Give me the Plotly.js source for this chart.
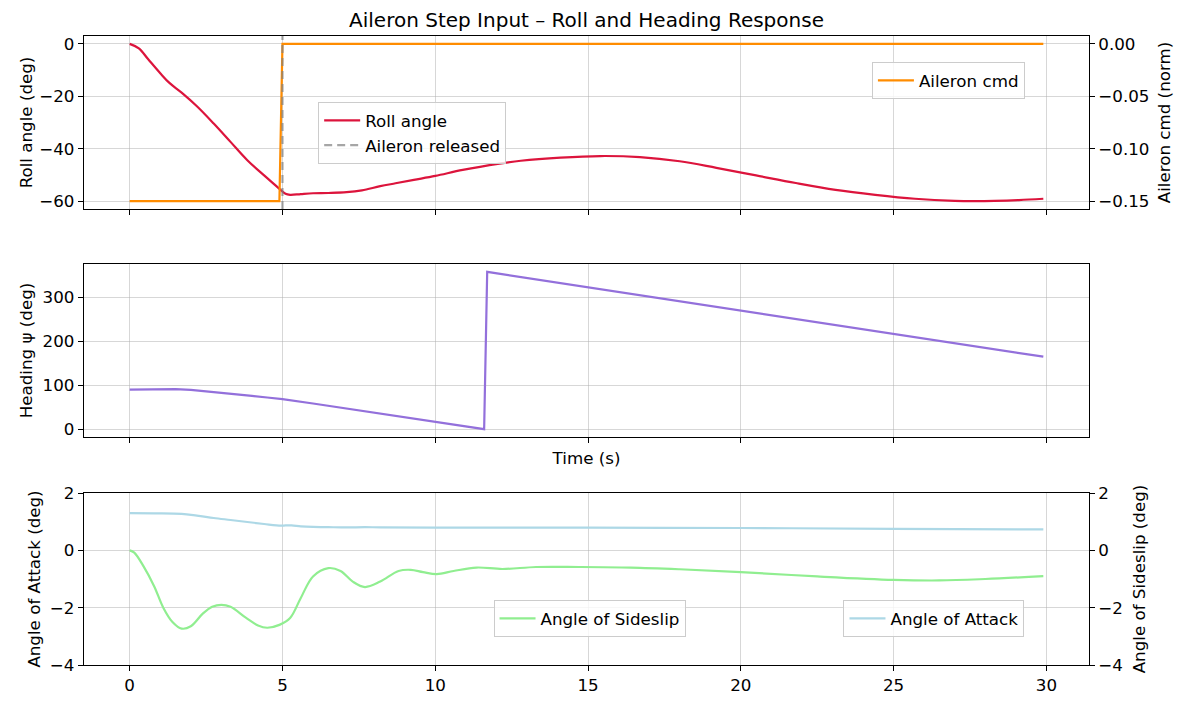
<!DOCTYPE html>
<html>
<head>
<meta charset="utf-8">
<script src="https://cdn.plot.ly/plotly-3.0.1.min.js"></script>
<style>html,body{margin:0;padding:0;background:#fff;}#chart{width:1187px;height:707px;}</style>
</head>
<body>
<div id="chart"></div>
<script>
// ---- Data ----
const tRoll = [0, 0.3, 0.6, 1.0, 1.3, 1.7, 2.2, 2.75, 3.3, 3.85, 4.4, 4.9, 5.1, 5.25, 5.6, 6.0, 6.5, 7.1, 7.6, 8.2, 8.7, 9.3, 10.0, 10.9, 12.1, 12.8, 14.1, 15.4, 16.7, 18.0, 19.2, 20.5, 21.8, 23.1, 24.4, 25.7, 27.0, 27.7, 28.3, 29.1, 29.9];
const roll = [0, -1.7, -5.8, -11.2, -14.9, -18.6, -23.8, -30.4, -37.4, -44.4, -50.2, -55.3, -57.2, -57.6, -57.3, -57.0, -56.9, -56.6, -55.9, -54.3, -53.2, -51.9, -50.4, -48.1, -45.7, -44.6, -43.4, -42.8, -43.2, -44.8, -47.3, -50.2, -53.1, -55.7, -57.6, -59.1, -59.9, -60.0, -59.9, -59.6, -59.1];

const tAileron = [0, 4.9, 5.0, 29.9];
const aileron = [-0.15, -0.15, 0, 0];
const releaseTime = 5;

const tHeading = [0, 0.5, 1.0, 1.5, 2.0, 2.5, 3.0, 3.5, 4.0, 4.5, 5.0, 6.0, 7.0, 8.0, 9.0, 10.0, 11.0, 11.6, 11.7, 15.0, 20.0, 25.0, 29.9];
const heading = [90, 90.6, 91.3, 91.4, 89.5, 86.5, 82.8, 79.3, 75.8, 72.2, 68.5, 58.5, 48, 37.5, 27.5, 17.5, 6.8, 0.2, 358, 323, 270.5, 217.5, 165];

const tAoA = [0, 0.8, 1.7, 2.2, 2.75, 3.3, 3.85, 4.4, 4.95, 5.1, 5.3, 5.6, 6.0, 6.5, 7.1, 7.7, 8.2, 10, 15, 20, 25, 29.9];
const aoa = [1.30, 1.29, 1.27, 1.21, 1.13, 1.06, 0.99, 0.92, 0.86, 0.87, 0.87, 0.84, 0.82, 0.81, 0.80, 0.81, 0.80, 0.79, 0.79, 0.78, 0.75, 0.73];

const tBeta = [0, 0.15, 0.45, 0.8, 1.1, 1.4, 1.7, 2.0, 2.4, 2.7, 3.0, 3.3, 3.8, 4.2, 4.5, 4.9, 5.25, 5.6, 6.0, 6.5, 6.9, 7.3, 7.7, 8.2, 8.8, 9.2, 9.6, 10.05, 10.6, 11.35, 12.2, 13.3, 14.7, 16.4, 18.0, 20.0, 22.5, 25.0, 26.5, 28.0, 29.9];
const beta = [0, -0.08, -0.55, -1.25, -2.0, -2.5, -2.73, -2.65, -2.2, -1.97, -1.9, -1.97, -2.35, -2.62, -2.7, -2.6, -2.36, -1.66, -0.91, -0.62, -0.72, -1.09, -1.28, -1.09, -0.72, -0.68, -0.76, -0.83, -0.72, -0.6, -0.65, -0.58, -0.58, -0.6, -0.66, -0.76, -0.91, -1.03, -1.05, -1.0, -0.9];

const xTicks = [0, 5, 10, 15, 20, 25, 30];
const rollTicks = [-60, -40, -20, 0];
const aileronTicks = [-0.15, -0.10, -0.05, 0.00];
const headingTicks = [0, 100, 200, 300];
const angleTicks = [-4, -2, 0, 2];

// ---- Styling ----
const FONT = 'DejaVu Sans, sans-serif';
const FS = 16.7;
const GRID = 'rgba(176,176,176,0.5)';
const LW = 2.2;

function xAxis(anchor, showLabels) {
  return {
    anchor: anchor, range: [-1.495, 31.395], tickvals: xTicks, showticklabels: showLabels,
    ticks: 'outside', ticklen: 5, tickwidth: 1, tickcolor: '#000',
    showline: true, mirror: true, linecolor: '#000', linewidth: 1.2,
    showgrid: true, gridcolor: GRID, gridwidth: 1, zeroline: false,
    tickfont: {family: FONT, size: FS, color: '#000'}
  };
}
function yAxis(domain, range, ticks, title, standoff) {
  return {
    domain: domain, range: range, tickvals: ticks,
    ticks: 'outside', ticklen: 5, tickwidth: 1, tickcolor: '#000',
    showline: true, mirror: true, linecolor: '#000', linewidth: 1.2,
    showgrid: true, gridcolor: GRID, gridwidth: 1, zeroline: false,
    tickfont: {family: FONT, size: FS, color: '#000'},
    title: {text: title, font: {family: FONT, size: FS, color: '#000'}, standoff: standoff}
  };
}

const traces = [
  {x: tRoll, y: roll, name: 'Roll angle', type: 'scatter', mode: 'lines',
   line: {color: '#DC143C', width: LW, shape: 'spline', smoothing: 1},
   xaxis: 'x', yaxis: 'y', legend: 'legend', legendrank: 1},
  {x: tAileron, y: aileron, name: 'Aileron cmd', type: 'scatter', mode: 'lines',
   line: {color: '#FF8C00', width: LW},
   xaxis: 'x', yaxis: 'y2', legend: 'legend2'},
  {x: tHeading, y: heading, name: 'Heading', type: 'scatter', mode: 'lines',
   line: {color: '#9370DB', width: LW},
   xaxis: 'x2', yaxis: 'y3', showlegend: false},
  {x: tBeta, y: beta, name: 'Angle of Sideslip', type: 'scatter', mode: 'lines',
   line: {color: '#90EE90', width: LW, shape: 'spline', smoothing: 1},
   xaxis: 'x3', yaxis: 'y5', legend: 'legend3'},
  {x: tAoA, y: aoa, name: 'Angle of Attack', type: 'scatter', mode: 'lines',
   line: {color: '#ADD8E6', width: LW, shape: 'spline', smoothing: 1},
   xaxis: 'x3', yaxis: 'y4', legend: 'legend4'}
];

function legendAt(x, y) {
  return {x: x, y: y, xanchor: 'left', yanchor: 'top', xref: 'paper', yref: 'paper',
    bgcolor: 'rgba(255,255,255,0.8)', bordercolor: '#cccccc', borderwidth: 1,
    font: {family: FONT, size: FS, color: '#000'}, tracegroupgap: 0, itemwidth: 36};
}

const yTop = yAxis([0.725, 1], [-63, 3], rollTicks, 'Roll angle (deg)', 2);
const yTopR = {
  overlaying: 'y', side: 'right', anchor: 'x', range: [-0.1575, 0.0075], tickvals: aileronTicks,
  tickformat: '.2f', ticks: 'outside', ticklen: 5, tickwidth: 1, tickcolor: '#000',
  showgrid: false, zeroline: false, showline: false,
  tickfont: {family: FONT, size: FS, color: '#000'},
  title: {text: 'Aileron cmd (norm)', font: {family: FONT, size: FS, color: '#000'}, standoff: 9}
};
const yMid = yAxis([0.3625, 0.6375], [-17.7, 375.9], headingTicks, 'Heading ψ (deg)', 5);
const yBot = yAxis([0, 0.2734], [-4, 2], angleTicks, 'Angle of Attack (deg)', 5);
const yBotR = {
  overlaying: 'y4', side: 'right', anchor: 'x3', range: [-4, 2], tickvals: angleTicks,
  ticks: 'outside', ticklen: 5, tickwidth: 1, tickcolor: '#000',
  showgrid: false, zeroline: false, showline: false,
  tickfont: {family: FONT, size: FS, color: '#000'},
  title: {text: 'Angle of Sideslip (deg)', font: {family: FONT, size: FS, color: '#000'}, standoff: 11}
};

const xMid = xAxis('y3', false);
xMid.matches = 'x';
xMid.title = {text: 'Time (s)', font: {family: FONT, size: FS, color: '#000'}, standoff: 10};
const xBot = xAxis('y4', true);
xBot.matches = 'x';

const layout = {
  width: 1187, height: 707,
  margin: {l: 84, r: 98, t: 36, b: 42},
  paper_bgcolor: '#fff', plot_bgcolor: '#fff',
  font: {family: FONT, size: FS, color: '#000'},
  title: {text: 'Aileron Step Input – Roll and Heading Response', x: 0.5, xref: 'paper', xanchor: 'center',
          y: 0.972, yref: 'container', yanchor: 'middle', font: {family: FONT, size: 20, color: '#000'}},
  xaxis: xAxis('y', false), yaxis: yTop, yaxis2: yTopR,
  xaxis2: xMid, yaxis3: yMid,
  xaxis3: xBot, yaxis4: yBot, yaxis5: yBotR,
  legend: legendAt(0.233, 0.895),
  legend2: legendAt(0.784, 0.9587),
  legend3: legendAt(0.4075, 0.1033),
  legend4: legendAt(0.7557, 0.1033),
  shapes: [{type: 'line', xref: 'x', yref: 'y domain', x0: releaseTime, x1: releaseTime, y0: 0, y1: 1,
            line: {color: 'rgba(128,128,128,0.7)', width: LW, dash: '8px,5px'}, layer: 'above',
            showlegend: true, legend: 'legend', name: 'Aileron released', legendrank: 2}],
  showlegend: true
};

Plotly.newPlot('chart', traces, layout, {staticPlot: true, displayModeBar: false});
</script>
</body>
</html>
